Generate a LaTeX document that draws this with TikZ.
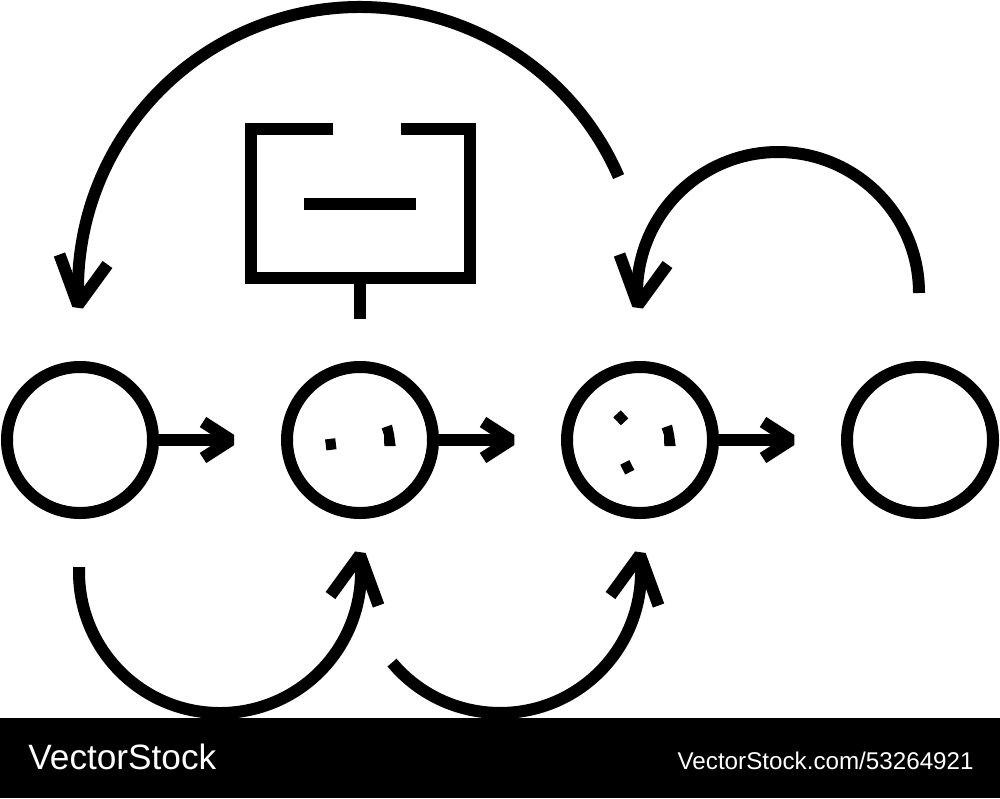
\documentclass[tikz,border=0pt]{standalone}
\usepackage{fontspec}
\setmainfont{Liberation Sans}
\begin{document}
\begin{tikzpicture}[x=0.5pt,y=-0.5pt,
  stroke/.style={line width=6pt, line cap=butt, line join=miter},
  barb/.style={line width=6pt, line join=bevel, line cap=butt},
  ring/.style={circle, draw, line width=6pt, minimum size=73pt, inner sep=0pt},
  speck/.style={fill, draw=none, inner sep=0pt, minimum width=5.1pt, minimum height=5.5pt},
  banner/.style={text=white, inner sep=0pt}]
\useasboundingbox (0,0) rectangle (1000,798);
% watermark banner
\fill[black] (0,718) rectangle (1000,798);
\node[banner, anchor=base west, font=\fontsize{17.6}{20}\selectfont] (wm1) at (28,769) {VectorStock};
\node[banner, anchor=base east, font=\fontsize{12.1}{14}\selectfont] (wm2) at (974,769) {VectorStock.com/53264921};

% circles
\node[ring] (c1) at (80,440) {};
\node[ring] (c2) at (360,440) {};
\node[ring] (c3) at (640,440) {};
\node[ring] (c4) at (920,440) {};

% specks inside circles
\node[speck, rotate=7] (s1) at (330.8,444.3) {};
\fill (381.7,428.3) -- (392,424.7) -- (394,434) -- (395.7,446) -- (384.3,446) -- (384,435) -- cycle;
\node[speck, rotate=43] (s2) at (620.8,417.8) {};
\fill (661.7,428.3) -- (672,424.7) -- (674,434) -- (675.7,446) -- (664.3,446) -- (664,435) -- cycle;
\node[speck, rotate=27] (s3) at (627.3,467.3) {};

% horizontal arrows
\coordinate (h1) at (231,440);
\coordinate (h2) at (511,440);
\coordinate (h3) at (791,440);
\draw[stroke] (c1.east) -- (h1);
\draw[stroke] (c2.east) -- (h2);
\draw[stroke] (c3.east) -- (h3);
\foreach \t in {h1,h2,h3}
  \draw[barb] ([shift={(-28,-18)}]\t) -- (\t) -- ([shift={(-28,18)}]\t);

% box icon
\draw[stroke] (333.3,129) -- (251,129) -- (251,278) -- (470,278) -- (470,129) -- (400.7,129);
\draw[stroke] (304,204) -- (416,204);
\coordinate (stemtop) at (360,278);
\coordinate (stembot) at (360,319);
\draw[stroke] (stemtop) -- (stembot);

% top arcs
\coordinate (t1) at (78,305);
\coordinate (t2) at (638,305);
\coordinate (bigs) at (618.6,176.6);
\draw[stroke] (bigs) arc[start angle=-23.5, end angle=-183.2, radius=282];
\coordinate (smalls) at (919,293);
\draw[stroke] (smalls) arc[start angle=0, end angle=-184, radius=141];
\foreach \t in {t1,t2}
  \draw[barb] ([shift={(-18.5,-50.5)}]\t) -- (\t) -- ([shift={(29.5,-40.5)}]\t);

% bottom arcs
\coordinate (b1) at (360,555);
\coordinate (b2) at (640,555);
\coordinate (ls) at (79.1,567.1);
\draw[stroke] (ls) arc[start angle=182, end angle=-6, radius=141];
\coordinate (ms) at (392,662.6);
\draw[stroke] (ms) arc[start angle=140, end angle=-6, radius=141];
\foreach \t in {b1,b2}
  \draw[barb] ([shift={(-29.5,40.5)}]\t) -- (\t) -- ([shift={(18.5,50.5)}]\t);
\end{tikzpicture}
\end{document}
